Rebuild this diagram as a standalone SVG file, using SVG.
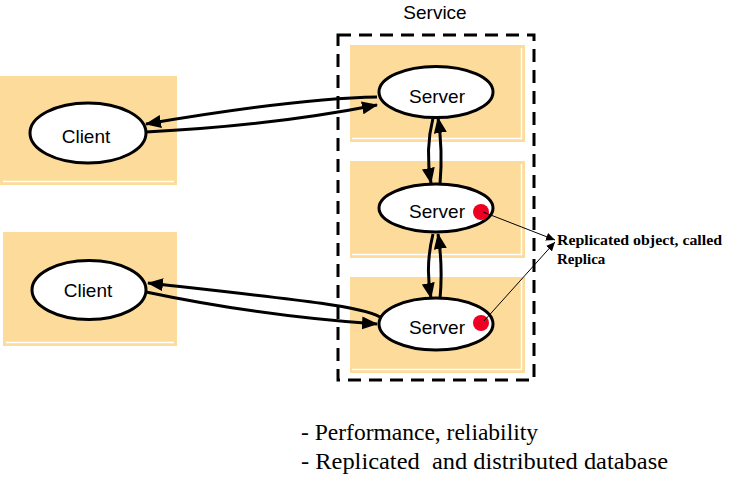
<svg xmlns="http://www.w3.org/2000/svg" width="737" height="489" viewBox="0 0 737 489">
<style>
.box{fill:#FDDB9A;}
.hl{stroke:#ffffff;stroke-width:1.5;fill:none;}
.node{fill:#ffffff;stroke:#000000;stroke-width:3;}
.lbl{font-family:"Liberation Sans",Arial,sans-serif;font-size:19px;fill:#000;text-anchor:middle;}
.conn{fill:none;stroke:#000;stroke-width:3;marker-end:url(#ah);}
.thin{fill:none;stroke:#000;stroke-width:1;marker-end:url(#ahs);}
.note{font-family:"Liberation Serif","Times New Roman",serif;font-size:15px;font-weight:bold;fill:#000;}
.bul{font-family:"Liberation Serif","Times New Roman",serif;font-size:23px;fill:#000;white-space:pre;}
.dot{fill:#EE0022;}
</style>
<defs>
<marker id="ah" markerUnits="userSpaceOnUse" markerWidth="17" markerHeight="13" refX="15" refY="6.5" orient="auto">
<path d="M0,0 L16,6.5 L0,13 z" fill="#000"/>
</marker>
<marker id="ahs" markerUnits="userSpaceOnUse" markerWidth="10" markerHeight="8" refX="9" refY="4" orient="auto">
<path d="M0,0 L9,4 L0,8 z" fill="#000"/>
</marker>
</defs>

<text x="435" y="19" class="lbl" id="service-label">Service</text>
<rect x="338" y="35" width="196" height="345" fill="none" stroke="#000" stroke-width="3" stroke-dasharray="13,8"/>

<g id="client1">
<rect class="box" x="0" y="76" width="177" height="109"/>
<line class="hl" x1="3" y1="181.5" x2="174" y2="181.5"/>
<ellipse class="node" cx="88" cy="133" rx="58" ry="30"/>
<text class="lbl" x="86" y="143">Client</text>
</g>

<g id="client2">
<rect class="box" x="3" y="232" width="174" height="114"/>
<line class="hl" x1="6" y1="342.5" x2="174" y2="342.5"/>
<ellipse class="node" cx="89" cy="290" rx="57" ry="29.5"/>
<text class="lbl" x="88" y="297">Client</text>
</g>

<g id="server1">
<rect class="box" x="350" y="45" width="175" height="97"/>
<polyline class="hl" points="352,138.5 521.5,138.5 521.5,48"/>
<ellipse class="node" cx="436" cy="92" rx="57" ry="25.5"/>
<text class="lbl" x="437" y="103">Server</text>
</g>

<g id="server2">
<rect class="box" x="350" y="161" width="175" height="97"/>
<polyline class="hl" points="352,254.5 521.5,254.5 521.5,164"/>
<ellipse class="node" cx="436" cy="208" rx="57" ry="24"/>
<text class="lbl" x="437" y="218">Server</text>
<circle class="dot" cx="481" cy="212" r="8"/>
</g>

<g id="server3">
<rect class="box" x="350" y="277" width="175" height="96"/>
<polyline class="hl" points="352,369.5 521.5,369.5 521.5,280"/>
<ellipse class="node" cx="436" cy="324" rx="57" ry="26"/>
<text class="lbl" x="437" y="334">Server</text>
<circle class="dot" cx="481" cy="323" r="8"/>
</g>

<g id="connectors">
<path class="conn" d="M377,97 Q 300,98 146,124"/>
<path class="conn" d="M146,132 Q 270,126 377,105"/>
<path class="conn" d="M380,317 C 360,306 300,300 148,283"/>
<path class="conn" d="M146,292 Q 260,316 377,324"/>
<path class="conn" d="M433,118 Q 425,150 431,183"/>
<path class="conn" d="M440,184 Q 443,150 438,118"/>
<path class="conn" d="M433,234 Q 425,266 431,298"/>
<path class="conn" d="M440,299 Q 443,266 438,234"/>
<path class="thin" d="M483,212 L555,240"/>
<path class="thin" d="M484,321 L555,242"/>
</g>

<g id="replica-label">
<text class="note" x="557" y="245" textLength="165" lengthAdjust="spacingAndGlyphs">Replicated object, called</text>
<text class="note" x="557" y="264">Replica</text>
</g>

<g id="notes">
<text class="bul" x="301" y="440" textLength="237" lengthAdjust="spacingAndGlyphs">- Performance, reliability</text>
<text class="bul" x="301" y="469" xml:space="preserve" textLength="367" lengthAdjust="spacingAndGlyphs">- Replicated  and distributed database</text>
</g>
</svg>
